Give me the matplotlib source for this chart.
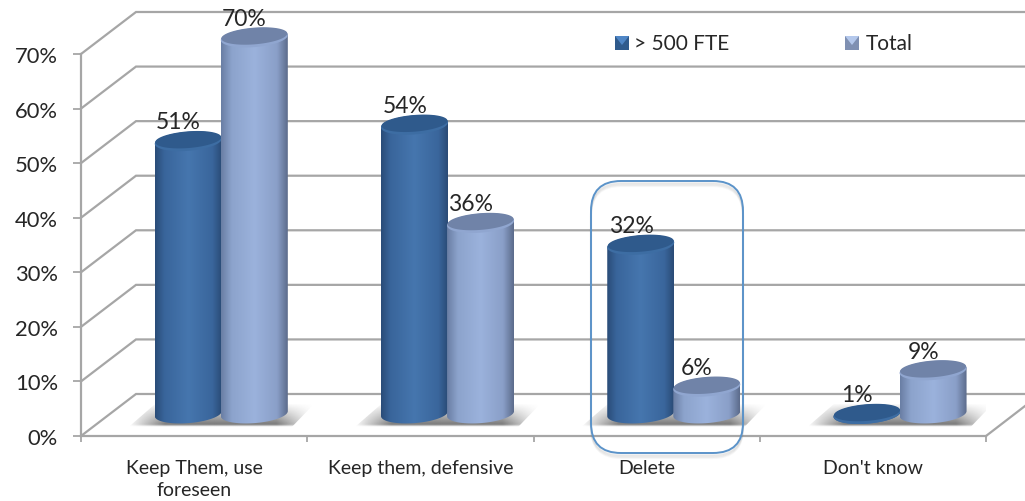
import numpy as np
import matplotlib
matplotlib.use('Agg')
import matplotlib.pyplot as plt
from matplotlib.colors import LinearSegmentedColormap, to_rgb
from matplotlib.patches import FancyBboxPatch, Polygon

# data
categories = ['Keep Them, use\nforeseen', 'Keep them, defensive', 'Delete', "Don't know"]
fte_500 = [51, 54, 32, 1]
total = [70, 36, 6, 9]
y_ticks = [0, 10, 20, 30, 40, 50, 60, 70]
legend_labels = ['> 500 FTE', 'Total']

plt.rcParams['font.family'] = ['Lato', 'DejaVu Sans']
W, H = 1025, 502
PX_X = 226.25   # pixels per category
PX_Y = 5.457    # pixels per percent
GRID = '#a6a6a6'
TEXT = '#262626'

fig = plt.figure(figsize=(W / 100, H / 100), dpi=100, facecolor='white')
ax = fig.add_axes([81 / W, 1 - 437 / H, 905 / W, 382 / H])
ax.set_xlim(0, 4)
ax.set_ylim(0, 70)
ax.set_autoscale_on(False)
ax.patch.set_visible(False)

# 3d walls
depth_x = 55 / PX_X
depth_y = 42 / PX_Y
right_edge = (W - 81) / PX_X
for v in y_ticks:
    ax.plot([0, depth_x, right_edge], [v, v + depth_y, v + depth_y],
            color=GRID, lw=1.6, clip_on=False, zorder=1, solid_joinstyle='miter')
ax.plot([4, right_edge], [0, 30 / PX_Y], color=GRID, lw=1.6, clip_on=False, zorder=1)

for s in ['top', 'right']:
    ax.spines[s].set_visible(False)
for s in ['left', 'bottom']:
    ax.spines[s].set_color(GRID)
    ax.spines[s].set_linewidth(1.6)
    ax.spines[s].set_zorder(1)

ax.set_yticks(y_ticks)
ax.set_yticklabels(['%d%%' % v for v in y_ticks], fontsize=15.8, color=TEXT)
ax.set_xticks(range(5))
ax.set_xticklabels([''] * 5)
ax.tick_params(axis='y', length=5.5, width=1.3, color=GRID, pad=11)
ax.tick_params(axis='x', length=4.5, width=1.3, color=GRID)
for i, c in enumerate(categories):
    ax.annotate(c, (i + 0.5, 0), xytext=(0, -16.5), textcoords='offset points',
                ha='center', va='top', fontsize=14, color=TEXT, linespacing=1.35)

# cylinders
A = 33.5 / PX_X
B = 9.5 / PX_Y
TILT = 2.5 / PX_Y
BASE = 4.1
TOP_OFFSET = 3.0


def ellipse(cx, cy, a=A, b=B, k=TILT, t0=0, t1=2 * np.pi):
    t = np.linspace(t0, t1, 80)
    return cx + a * np.cos(t), cy + b * np.sin(t) + k * np.cos(t)


dark_cmap = LinearSegmentedColormap.from_list('d', [(0, '#2a4c78'), (0.14, '#39659b'), (0.5, '#4676ae'),
                                                    (0.86, '#3a669c'), (1, '#2a4b76')])
light_cmap = LinearSegmentedColormap.from_list('l', [(0, '#6a7ea4'), (0.16, '#8ca3cc'), (0.5, '#9bb2dc'),
                                                     (0.84, '#8a9fc8'), (1, '#5c6c8c')])
ramp = np.linspace(0, 1, 200).reshape(1, -1)


def draw_cylinder(cx, value, cmap, top_color, rim_color, z):
    top = value + TOP_OFFSET
    base = min(BASE, top)
    xb, yb = ellipse(cx, base, t0=np.pi, t1=2 * np.pi)
    xt, yt = ellipse(cx, top, t0=0, t1=np.pi)
    poly = Polygon(np.column_stack([np.r_[xb, xt], np.r_[yb, yt]]), closed=True,
                   transform=ax.transData, fc='none', ec='none')
    ax.add_patch(poly)
    im = ax.imshow(ramp, cmap=cmap, aspect='auto', zorder=z, interpolation='bilinear',
                   extent=(cx - A, cx + A, base - B - 2, top + B + 2))
    im.set_clip_box(fig.bbox)
    im.set_clip_path(poly)
    xr, yr = ellipse(cx, top)
    ax.fill(xr, yr, color=rim_color, lw=0, zorder=z + 0.1, clip_on=False)
    xi, yi = ellipse(cx, top + 0.3, a=A * 0.985, b=B * 0.88)
    ax.fill(xi, yi, color=top_color, lw=0, zorder=z + 0.2, clip_on=False)


def draw_shadow(i):
    # soft floor shadow behind each pair
    x0 = i + (128 - 81) / PX_X
    x1 = i + (314 - 81) / PX_X
    y0 = 8.5 / PX_Y
    y1 = 32 / PX_Y
    nx, ny = 200, 40
    ax_fade = np.clip(np.minimum(np.linspace(0, 1, nx) / 0.2, np.linspace(1, 0, nx) / 0.2), 0, 1)
    ay_fade = np.clip(np.linspace(0, 1, ny) / 0.85, 0, 1) * np.clip(np.linspace(1, 0, ny) / 0.1, 0, 1)
    img = np.zeros((ny, nx, 4))
    img[..., :3] = to_rgb('#808080')
    img[..., 3] = np.outer(ay_fade, ax_fade)
    poly = Polygon([(x0, y0), (x1 - 0.1, y0), (x1, y1), (x0 + 0.12, y1)], closed=True,
                   transform=ax.transData, fc='none', ec='none')
    ax.add_patch(poly)
    im = ax.imshow(img, aspect='auto', zorder=2, extent=(x0, x1, y0, y1), interpolation='bilinear')
    im.set_clip_path(poly)


for i in range(len(categories)):
    draw_shadow(i)
    cx_d = i + 0.474
    cx_l = i + 0.766
    draw_cylinder(cx_d, fte_500[i], dark_cmap, '#2f5a8c', '#3d6da3', 3 + i)
    draw_cylinder(cx_l, total[i], light_cmap, '#7083a8', '#90a6d0', 3.5 + i)
    for cx, v in [(cx_d, fte_500[i]), (cx_l, total[i])]:
        ax.annotate('%d%%' % v, (cx, v + TOP_OFFSET), xytext=(-7, 14), textcoords='offset points',
                    ha='center', va='center', fontsize=16.5, color=TEXT, zorder=10,
                    annotation_clip=False)

# overlay in pixels for the highlight box and legend
ov = fig.add_axes([0, 0, 1, 1])
ov.set_xlim(0, W)
ov.set_ylim(H, 0)
ov.axis('off')
ov.patch.set_visible(False)

for off, a in [(5, 0.06), (4, 0.07), (3, 0.08), (2, 0.09)]:
    ov.add_patch(FancyBboxPatch((591, 182 + off), 152, 272, boxstyle='round,pad=0,rounding_size=30',
                                fc='none', ec='#777777', lw=1.5, alpha=a))
ov.add_patch(FancyBboxPatch((591, 182), 152, 272, boxstyle='round,pad=0,rounding_size=30',
                            fc='none', ec='#5b93c9', lw=1.4))

swatches = [(615, '#2f5a8c', '#4f86c6'), (845, '#7f90b2', '#b4c8ec')]
text_x = [634, 866]
for (sx, edge, light), tx, lab in zip(swatches, text_x, legend_labels):
    ov.fill([sx, sx + 14, sx + 14, sx], [37, 37, 51, 51], color=edge, lw=0)
    ov.fill([sx, sx + 14, sx + 7], [37, 37, 46], color=light, lw=0)
    ov.text(tx, 43.5, lab, fontsize=15, color=TEXT, ha='left', va='center')

fig.savefig('out.png', dpi=100, facecolor='white')
